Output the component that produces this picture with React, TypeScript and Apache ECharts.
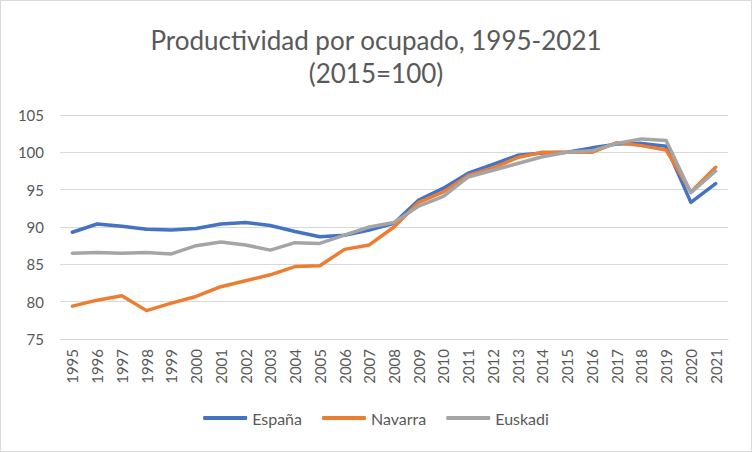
import React, { useEffect, useRef } from "react";
import * as echarts from "echarts";

const years = ["1995","1996","1997","1998","1999","2000","2001","2002","2003","2004","2005","2006","2007","2008","2009","2010","2011","2012","2013","2014","2015","2016","2017","2018","2019","2020","2021"];
const espana = [89.3, 90.4, 90.1, 89.7, 89.6, 89.8, 90.4, 90.6, 90.2, 89.4, 88.7, 88.9, 89.6, 90.5, 93.6, 95.2, 97.2, 98.4, 99.6, 99.9, 100.0, 100.6, 101.1, 101.2, 100.8, 93.3, 95.8];
const navarra = [79.4, 80.2, 80.8, 78.8, 79.8, 80.7, 82.0, 82.8, 83.6, 84.7, 84.8, 87.0, 87.6, 90.0, 93.3, 94.7, 96.9, 97.9, 99.3, 100.0, 100.0, 100.0, 101.3, 100.9, 100.3, 94.7, 98.0];
const euskadi = [86.5, 86.6, 86.5, 86.6, 86.4, 87.5, 88.0, 87.6, 86.9, 87.9, 87.8, 88.9, 90.0, 90.6, 92.8, 94.1, 96.7, 97.6, 98.5, 99.4, 100.0, 100.2, 101.2, 101.8, 101.6, 94.6, 97.5];
const seriesNames = ["España", "Navarra", "Euskadi"];
const yTicks = { min: 75, max: 105, interval: 5 };

const FONT = "Lato, 'Open Sans', sans-serif";
const TXT = "#595959";

export default function App() {
  const ref = useRef<HTMLDivElement>(null);
  useEffect(() => {
    if (!ref.current) return;
    const chart = echarts.init(ref.current, undefined, { renderer: "svg" });
    const colors = ["#4472C4", "#ED7D31", "#A5A5A5"];
    const data = [espana, navarra, euskadi];
    chart.setOption({
      animation: false,
      backgroundColor: "#ffffff",
      title: {
        text: "Productividad por ocupado, 1995-2021\n(2015=100)",
        left: "center",
        top: 17,
        textStyle: { fontFamily: FONT, fontSize: 26, fontWeight: "normal", color: TXT, lineHeight: 33 },
      },
      legend: {
        bottom: 20,
        left: "center",
        icon: "roundRect",
        itemWidth: 44,
        itemHeight: 4,
        itemGap: 20,
        textStyle: { fontFamily: FONT, fontSize: 16, color: TXT },
        data: seriesNames,
      },
      grid: { left: 59, right: 23, top: 114, bottom: 112, containLabel: false },
      xAxis: {
        type: "category",
        data: years,
        boundaryGap: true,
        axisLine: { lineStyle: { color: "#D9D9D9", width: 1 } },
        axisTick: { show: false },
        axisLabel: { rotate: 90, interval: 0, fontFamily: FONT, fontSize: 15, color: TXT, margin: 10 },
      },
      yAxis: {
        type: "value",
        min: yTicks.min,
        max: yTicks.max,
        interval: yTicks.interval,
        axisLine: { show: false },
        axisTick: { show: false },
        splitLine: { lineStyle: { color: "#D9D9D9", width: 1 } },
        axisLabel: { fontFamily: FONT, fontSize: 15, color: TXT, margin: 16 },
      },
      series: seriesNames.map((name, i) => ({
        name,
        type: "line",
        data: data[i],
        symbol: "none",
        color: colors[i],
        lineStyle: { width: 3.5, color: colors[i], cap: "round", join: "round" },
      })),
    });
    return () => chart.dispose();
  }, []);
  return (
    <div
      ref={ref}
      style={{ position: "absolute", left: 0, top: 0, width: 752, height: 452, boxSizing: "border-box", border: "1px solid #D9D9D9" }}
    />
  );
}
